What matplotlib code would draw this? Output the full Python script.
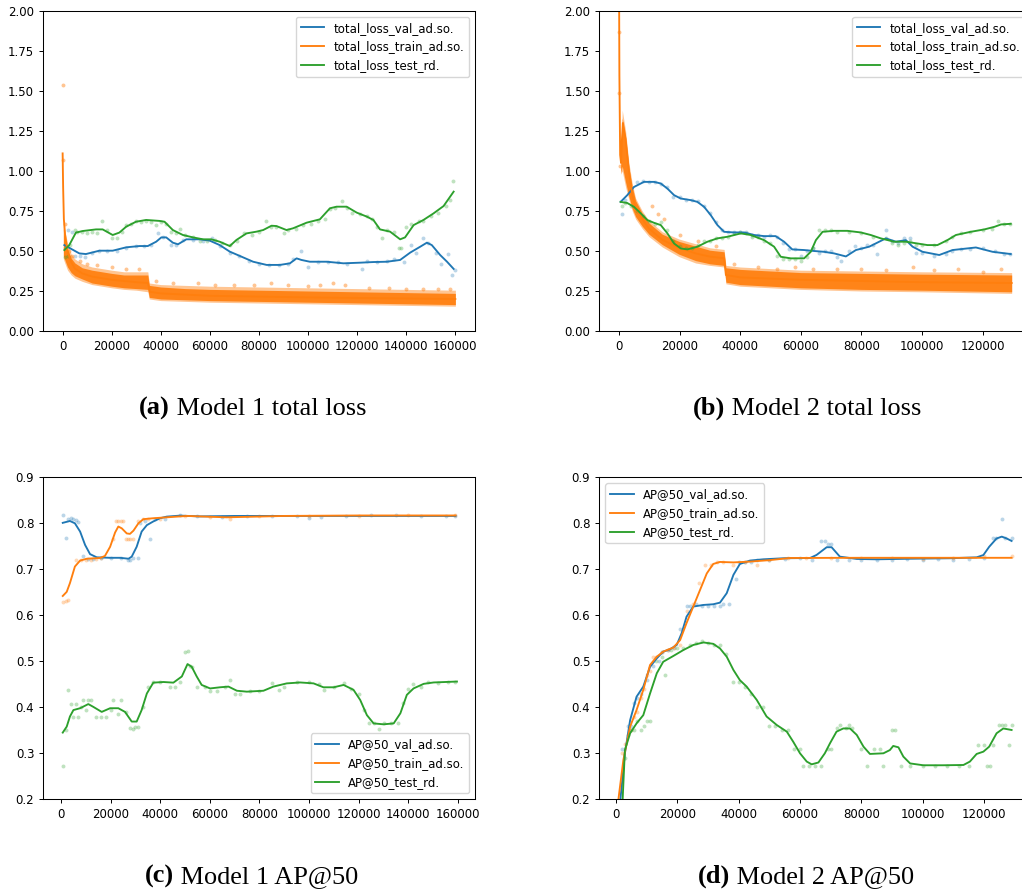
import matplotlib
matplotlib.use("Agg")
import matplotlib.pyplot as plt

# ---------------------------------------------------------------- data
# Model 1 total loss (smoothed curves)
m1_val_loss_x = [700, 6800, 9500, 15000, 20400, 25900, 31300, 34700, 38100, 40200, 42200, 44900, 47000,
                 50400, 55800, 59900, 64000, 68100, 72200, 77600, 83100, 88500, 92600, 95300, 97300,
                 100700, 107600, 114400, 121200, 126600, 132100, 137500, 141600, 145700, 148400, 150400,
                 153800, 156600, 159300]
m1_val_loss_y = [0.537, 0.485, 0.481, 0.502, 0.502, 0.523, 0.531, 0.531, 0.558, 0.585, 0.585, 0.552, 0.542,
                 0.573, 0.573, 0.565, 0.537, 0.496, 0.469, 0.433, 0.413, 0.413, 0.423, 0.454, 0.444,
                 0.433, 0.433, 0.423, 0.427, 0.431, 0.433, 0.444, 0.490, 0.527, 0.552, 0.537,
                 0.475, 0.433, 0.388]
m1_test_loss_x = [700, 2700, 5400, 8200, 13600, 16300, 20400, 23100, 25900, 29900, 34000, 39500, 41500,
                  44900, 49000, 53100, 57200, 60600, 64000, 68100, 70800, 74900, 79000, 81700, 85100,
                  87100, 91200, 93900, 99400, 104800, 108900, 111600, 115700, 119800, 123900, 126600,
                  129300, 133400, 137500, 139500, 143000, 147000, 151100, 155200, 159300]
m1_test_loss_y = [0.506, 0.537, 0.615, 0.625, 0.635, 0.635, 0.600, 0.615, 0.652, 0.683, 0.694, 0.688, 0.683,
                  0.631, 0.600, 0.585, 0.573, 0.573, 0.558, 0.531, 0.569, 0.610, 0.621, 0.631, 0.658,
                  0.656, 0.631, 0.642, 0.677, 0.698, 0.767, 0.777, 0.777, 0.740, 0.715, 0.694,
                  0.635, 0.621, 0.573, 0.585, 0.662, 0.694, 0.735, 0.781, 0.871]
m1_train_loss_x = [0, 200, 500, 1000, 2000, 3500, 5000, 8000, 12000, 20000, 30000, 34800, 35500, 40000,
                   60000, 100000, 160000]
m1_train_loss_y = [1.11, 0.90, 0.70, 0.60, 0.50, 0.43, 0.39, 0.36, 0.34, 0.32, 0.305, 0.30, 0.245, 0.235,
                   0.22, 0.21, 0.20]
# spread of the raw training-loss samples (outer envelope and dense core)
m1_band_x = [300, 1000, 2000, 3500, 5000, 8000, 12000, 16000, 20000, 25000, 30000, 34700, 35300, 40000,
             50000, 60000, 80000, 100000, 120000, 140000, 160000]
m1_band_hi = [0.68, 0.62, 0.55, 0.48, 0.45, 0.42, 0.40, 0.39, 0.38, 0.37, 0.37, 0.37, 0.30, 0.29, 0.285,
              0.28, 0.275, 0.27, 0.265, 0.26, 0.255]
m1_band_lo = [0.45, 0.42, 0.38, 0.35, 0.33, 0.31, 0.29, 0.28, 0.27, 0.26, 0.255, 0.245, 0.20, 0.19, 0.185,
              0.18, 0.175, 0.17, 0.165, 0.16, 0.155]
m1_core_hi = [0.64, 0.57, 0.51, 0.455, 0.425, 0.395, 0.38, 0.37, 0.36, 0.35, 0.35, 0.35, 0.285, 0.275,
              0.265, 0.26, 0.255, 0.25, 0.245, 0.24, 0.235]
m1_core_lo = [0.47, 0.44, 0.40, 0.365, 0.345, 0.325, 0.30, 0.29, 0.28, 0.27, 0.265, 0.26, 0.21, 0.20,
              0.195, 0.19, 0.185, 0.18, 0.175, 0.17, 0.165]
m1_train_pts_x = [0, 0, 1000, 2500, 4000, 7000, 10000, 14000, 20000, 26000, 31000, 38000, 45000, 55000,
                  62000, 70000, 78000, 85000, 92000, 100000, 105000, 110000, 115000, 125000, 133000,
                  140000, 147000, 153000, 158000]
m1_train_pts_y = [1.54, 1.07, 0.67, 0.50, 0.47, 0.44, 0.42, 0.41, 0.40, 0.39, 0.385, 0.31, 0.30, 0.30,
                  0.29, 0.285, 0.29, 0.30, 0.285, 0.28, 0.29, 0.30, 0.29, 0.27, 0.27, 0.265, 0.26,
                  0.265, 0.26]
m1_val_pts_x = [1000, 2000, 4000, 5000, 7000, 9000, 12000, 15000, 18000, 22000, 26000, 30000, 33000, 36000,
                39000, 41000, 44000, 46000, 49000, 53000, 57000, 61000, 64000, 68000, 72000, 76000, 80000,
                84000, 88000, 92000, 94000, 97000, 100000, 104000, 108000, 112000, 116000, 122000, 124000,
                128000, 132000, 135000, 139000, 142000, 144000, 147000, 149000, 152000, 154000, 157000,
                158700, 160000]
m1_val_pts_y = [0.52, 0.63, 0.62, 0.47, 0.47, 0.46, 0.49, 0.50, 0.50, 0.50, 0.52, 0.53, 0.53, 0.54,
                0.61, 0.59, 0.54, 0.54, 0.57, 0.57, 0.56, 0.58, 0.53, 0.49, 0.47, 0.44, 0.42,
                0.41, 0.41, 0.42, 0.45, 0.50, 0.40, 0.43, 0.43, 0.43, 0.42, 0.39, 0.44,
                0.43, 0.44, 0.45, 0.43, 0.54, 0.49, 0.58, 0.55, 0.49, 0.42, 0.48,
                0.35, 0.38]
m1_test_pts_x = [1000, 2000, 3000, 5000, 6000, 8000, 10000, 12000, 14000, 16000, 18000, 20000, 22000, 24000,
                 26000, 28000, 30000, 32000, 34000, 36000, 38000, 40000, 42000, 44000, 46000, 48000, 50000,
                 53000, 56000, 59000, 62000, 65000, 68000, 71000, 74000, 77000, 80000, 83000, 85000, 87000,
                 90000, 92000, 95000, 98000, 101000, 104000, 107000, 109000, 111000, 114000, 116000,
                 118000, 121000, 124000, 126000, 128000, 130000, 132000, 135000, 137000, 138000, 140000,
                 142000, 145000, 147000, 150000, 153000, 156000, 158000, 159000]
m1_test_pts_y = [0.46, 0.47, 0.54, 0.63, 0.62, 0.62, 0.61, 0.62, 0.61, 0.69, 0.63, 0.58, 0.58, 0.62,
                 0.66, 0.67, 0.69, 0.68, 0.69, 0.68, 0.66, 0.68, 0.67, 0.62, 0.61, 0.64, 0.60,
                 0.59, 0.56, 0.56, 0.57, 0.55, 0.54, 0.56, 0.61, 0.60, 0.62, 0.69, 0.65, 0.65,
                 0.61, 0.63, 0.64, 0.66, 0.67, 0.69, 0.70, 0.76, 0.77, 0.815, 0.77,
                 0.74, 0.73, 0.72, 0.70, 0.65, 0.58, 0.63, 0.62, 0.52, 0.52, 0.65,
                 0.67, 0.69, 0.69, 0.72, 0.74, 0.78, 0.82, 0.94]

# Model 2 total loss
m2_val_loss_x = [550, 2750, 4950, 8250, 11600, 13800, 16000, 18200, 20400, 23700, 25900, 28100, 30300,
                 32500, 34700, 38000, 41300, 44600, 47900, 51700, 54500, 57200, 61100, 64400, 67700,
                 71000, 74900, 78200, 82600, 88100, 91400, 94700, 96900, 100200, 105700, 110100,
                 117800, 123300, 129300]
m2_val_loss_y = [0.807, 0.849, 0.900, 0.932, 0.932, 0.922, 0.890, 0.849, 0.828, 0.818, 0.807, 0.776, 0.724,
                 0.662, 0.620, 0.616, 0.616, 0.600, 0.593, 0.593, 0.558, 0.510, 0.506, 0.500, 0.495,
                 0.485, 0.466, 0.506, 0.527, 0.579, 0.558, 0.568, 0.527, 0.495, 0.475, 0.506,
                 0.522, 0.495, 0.481]
m2_test_loss_x = [550, 2750, 4950, 7200, 9400, 11600, 13800, 16000, 18200, 20400, 22600, 25900, 29200,
                  32500, 35800, 40200, 43500, 47900, 51200, 53400, 56700, 61100, 63300, 65000, 67200,
                  71000, 75400, 79800, 83100, 86400, 90800, 94700, 98500, 101800, 105100, 108400,
                  111200, 116100, 120600, 123900, 126100, 129300]
m2_test_loss_y = [0.807, 0.800, 0.776, 0.735, 0.693, 0.676, 0.662, 0.610, 0.547, 0.516, 0.510, 0.527, 0.558,
                  0.579, 0.589, 0.610, 0.600, 0.568, 0.527, 0.464, 0.454, 0.454, 0.495, 0.568, 0.620,
                  0.626, 0.626, 0.616, 0.600, 0.579, 0.558, 0.558, 0.547, 0.537, 0.537, 0.568,
                  0.600, 0.620, 0.635, 0.651, 0.666, 0.670]
m2_train_loss_x = [0, 150, 400, 700, 1000, 1300, 2200, 3300, 4400, 5500, 7700, 9900, 14300, 19800, 25300,
                   30000, 34700, 35300, 40000, 60000, 100000, 129600]
m2_train_loss_y = [2.40, 1.60, 1.10, 1.05, 1.20, 1.30, 1.20, 1.00, 0.85, 0.77, 0.70, 0.64, 0.57, 0.52,
                   0.485, 0.465, 0.455, 0.35, 0.335, 0.32, 0.305, 0.30]
m2_band_x = [600, 1100, 2200, 3300, 4400, 5500, 7700, 9900, 14300, 19800, 25300, 30000, 34700, 35300,
             40000, 50000, 60000, 80000, 100000, 129600]
m2_band_hi = [1.10, 1.38, 1.25, 1.05, 0.92, 0.83, 0.75, 0.69, 0.62, 0.575, 0.545, 0.52, 0.51, 0.41, 0.40,
              0.39, 0.38, 0.375, 0.37, 0.365]
m2_band_lo = [0.98, 1.00, 0.90, 0.82, 0.75, 0.70, 0.64, 0.59, 0.525, 0.465, 0.425, 0.41, 0.40, 0.295,
              0.28, 0.27, 0.26, 0.25, 0.245, 0.235]
m2_core_hi = [1.08, 1.33, 1.21, 1.02, 0.90, 0.815, 0.735, 0.675, 0.605, 0.56, 0.53, 0.505, 0.495, 0.395,
              0.385, 0.375, 0.365, 0.36, 0.355, 0.35]
m2_core_lo = [0.99, 1.03, 0.93, 0.84, 0.765, 0.715, 0.655, 0.605, 0.54, 0.48, 0.44, 0.42, 0.41, 0.305,
              0.29, 0.28, 0.27, 0.26, 0.255, 0.245]
m2_train_pts_x = [0, 0, 300, 11000, 13000, 15000, 20000, 26000, 32000, 38000, 46000, 52000, 58000, 64000,
                  72000, 80000, 88000, 97000, 104000, 112000, 120000, 126000]
m2_train_pts_y = [1.87, 1.49, 1.03, 0.78, 0.73, 0.70, 0.60, 0.56, 0.53, 0.42, 0.40, 0.39, 0.40, 0.39,
                  0.385, 0.39, 0.38, 0.40, 0.38, 0.385, 0.37, 0.39]
m2_val_pts_x = [1000, 2000, 4000, 6000, 8000, 10000, 12000, 14000, 16000, 18000, 20000, 22000, 24000, 26000,
                28000, 30000, 32000, 34000, 36000, 38000, 40000, 42000, 44000, 46000, 48000, 50000, 52000,
                54000, 56000, 58000, 60000, 62000, 64000, 66000, 68000, 70000, 72000, 73200, 76000, 78000,
                80000, 82000, 84000, 85300, 88100, 90000, 92000, 94000, 96000, 98000, 100000, 104000,
                108000, 110000, 113000, 116000, 120000, 124000, 127000, 129000]
m2_val_pts_y = [0.73, 0.82, 0.88, 0.93, 0.94, 0.93, 0.93, 0.92, 0.90, 0.84, 0.84, 0.82, 0.82, 0.81,
                0.78, 0.74, 0.68, 0.63, 0.62, 0.62, 0.62, 0.62, 0.60, 0.60, 0.59, 0.60, 0.59,
                0.55, 0.51, 0.51, 0.47, 0.50, 0.52, 0.49, 0.50, 0.50, 0.46, 0.44, 0.50, 0.53,
                0.52, 0.54, 0.54, 0.48, 0.63, 0.56, 0.55, 0.58, 0.58, 0.49, 0.49, 0.47,
                0.48, 0.50, 0.51, 0.51, 0.52, 0.50, 0.48, 0.48]
m2_test_pts_x = [1000, 2000, 4000, 6000, 8000, 10000, 12000, 14000, 16000, 18000, 20000, 22000, 24000, 26000,
                 28000, 30000, 32000, 34000, 36000, 38000, 40000, 42000, 44000, 46000, 48000, 50000, 52000,
                 54000, 56000, 58000, 60000, 62000, 64000, 66000, 68000, 70000, 72000, 76000, 80000, 84000,
                 88000, 90000, 92000, 94000, 96000, 98000, 100000, 104000, 108000, 110000, 113000, 116000,
                 120000, 123000, 125000, 127000, 129000]
m2_test_pts_y = [0.78, 0.80, 0.78, 0.75, 0.72, 0.69, 0.67, 0.68, 0.63, 0.56, 0.53, 0.52, 0.52, 0.54,
                 0.56, 0.56, 0.58, 0.58, 0.59, 0.61, 0.62, 0.61, 0.59, 0.59, 0.56, 0.55, 0.47,
                 0.45, 0.45, 0.45, 0.44, 0.46, 0.52, 0.63, 0.63, 0.63, 0.62, 0.62, 0.61, 0.59,
                 0.58, 0.55, 0.54, 0.55, 0.56, 0.54, 0.54, 0.54, 0.56, 0.59, 0.61, 0.62,
                 0.63, 0.64, 0.69, 0.67, 0.67]

# Model 1 AP@50
m1_val_ap_x = [700, 3600, 5600, 7700, 9700, 11700, 14400, 19800, 23800, 27200, 28500, 30500, 32500, 34600,
               37200, 39900, 42600, 48000, 56100, 70000, 90000, 110000, 130000, 159000]
m1_val_ap_y = [0.801, 0.805, 0.800, 0.782, 0.753, 0.733, 0.726, 0.725, 0.725, 0.723, 0.7275, 0.749, 0.782,
               0.796, 0.804, 0.811, 0.8145, 0.8167, 0.815, 0.816, 0.816, 0.816, 0.816, 0.816]
m1_train_ap_x = [700, 2300, 3600, 5600, 7700, 10400, 15700, 17700, 19800, 21800, 23100, 24500, 26500, 27800,
                 29200, 31200, 33200, 37200, 42600, 50700, 66800, 90000, 120000, 159000]
m1_train_ap_y = [0.642, 0.651, 0.670, 0.706, 0.719, 0.723, 0.7246, 0.729, 0.749, 0.780, 0.793, 0.789, 0.778,
                 0.777, 0.784, 0.800, 0.809, 0.811, 0.813, 0.816, 0.813, 0.816, 0.817, 0.817]
m1_test_ap_x = [700, 2300, 3600, 5000, 7700, 11000, 13000, 16400, 19800, 23100, 25800, 28500, 30500, 32500,
                34600, 37200, 41300, 45300, 48700, 51000, 52700, 54700, 56700, 60100, 64100, 67500, 70900,
                74900, 81600, 85600, 91000, 96400, 101800, 105800, 109900, 113900, 117900, 120600, 123300,
                126000, 130000, 134100, 136800, 139400, 142100, 146200, 150200, 159600]
m1_test_ap_y = [0.345, 0.358, 0.380, 0.394, 0.398, 0.407, 0.401, 0.390, 0.398, 0.398, 0.390, 0.369, 0.369,
                0.394, 0.430, 0.4536, 0.455, 0.4536, 0.467, 0.494, 0.488, 0.467, 0.4486, 0.441, 0.4435,
                0.445, 0.436, 0.434, 0.436, 0.445, 0.452, 0.454, 0.452, 0.4435, 0.4435, 0.4486, 0.438,
                0.416, 0.383, 0.365, 0.363, 0.365, 0.387, 0.427, 0.441, 0.451, 0.454, 0.456]
m1_val_ap_pts_x = [1000, 2000, 3000, 4000, 5000, 6000, 7000, 9000, 11000, 13000, 16000, 20000, 24000, 27000,
                   28000, 29000, 31000, 32000, 34000, 36000, 38000, 42000, 48000, 55000, 65000, 75000,
                   85000, 95000, 100000, 105000, 115000, 125000, 135000, 145000, 155000, 159000]
m1_val_ap_pts_y = [0.817, 0.769, 0.81, 0.812, 0.81, 0.808, 0.803, 0.73, 0.722, 0.722, 0.725, 0.725, 0.725,
                   0.72, 0.72, 0.725, 0.725, 0.80, 0.805, 0.765, 0.81, 0.81, 0.817, 0.815, 0.813, 0.815,
                   0.815, 0.815, 0.811, 0.813, 0.815, 0.818, 0.818, 0.815, 0.815, 0.815]
m1_train_ap_pts_x = [1000, 2000, 3000, 6000, 8000, 10000, 12000, 14000, 16000, 21000, 22000, 23000, 24000,
                     25000, 26000, 27000, 28000, 29000, 31000, 33000, 35000, 40000, 50000, 60000, 68000,
                     80000, 100000, 120000, 140000, 159000]
m1_train_ap_pts_y = [0.630, 0.632, 0.634, 0.720, 0.720, 0.720, 0.720, 0.722, 0.725, 0.765, 0.805, 0.805,
                     0.805, 0.805, 0.765, 0.765, 0.765, 0.765, 0.805, 0.810, 0.810, 0.810, 0.815, 0.813,
                     0.810, 0.815, 0.815, 0.815, 0.818, 0.818]
m1_test_ap_pts_x = [1000, 2000, 3000, 4000, 5000, 6000, 7000, 8000, 9000, 10000, 11000, 12000, 14000, 16000,
                    18000, 20000, 21000, 23000, 24000, 26000, 28000, 29000, 30000, 31000, 33000, 35000,
                    37000, 40000, 44000, 46000, 48000, 50000, 51000, 52000, 53000, 55000, 58000, 60000,
                    63000, 66000, 68000, 70000, 72000, 76000, 80000, 85000, 88000, 90000, 95000, 100000,
                    104000, 106000, 110000, 114000, 117000, 120000, 122000, 124000, 126000, 128000,
                    130000, 133000, 136000, 138000, 140000, 142000, 145000, 148000, 152000, 156000, 159000]
m1_test_ap_pts_y = [0.272, 0.350, 0.437, 0.407, 0.380, 0.407, 0.380, 0.400, 0.415, 0.395, 0.415, 0.415,
                    0.380, 0.380, 0.380, 0.395, 0.416, 0.385, 0.416, 0.390, 0.355, 0.352, 0.358, 0.358,
                    0.400, 0.445, 0.455, 0.455, 0.445, 0.445, 0.455, 0.520, 0.523, 0.490, 0.488, 0.445,
                    0.445, 0.435, 0.435, 0.445, 0.459, 0.430, 0.430, 0.435, 0.435, 0.452, 0.438, 0.445,
                    0.455, 0.455, 0.450, 0.437, 0.445, 0.452, 0.440, 0.430, 0.395, 0.365, 0.365, 0.352,
                    0.365, 0.365, 0.365, 0.410, 0.440, 0.450, 0.445, 0.455, 0.452, 0.455, 0.455]

# Model 2 AP@50
m2_val_ap_x = [1000, 2900, 4600, 6700, 8900, 11100, 13300, 15400, 17600, 19800, 21400, 23000, 25200, 28500,
               31700, 33900, 36100, 38300, 40400, 43700, 48000, 54600, 63300, 65400, 68700, 70300, 73000,
               78500, 85000, 95900, 108900, 117600, 119800, 121700, 124100, 125800, 127400, 129000]
m2_val_ap_y = [0.17, 0.300, 0.372, 0.423, 0.445, 0.488, 0.5065, 0.521, 0.526, 0.5355, 0.561, 0.597, 0.619,
               0.6225, 0.624, 0.6275, 0.648, 0.688, 0.7116, 0.719, 0.7217, 0.724, 0.7246, 0.7312, 0.748,
               0.748, 0.7275, 0.7225, 0.7217, 0.723, 0.724, 0.726, 0.731, 0.749, 0.767, 0.771, 0.767,
               0.7616]
m2_train_ap_x = [600, 2400, 4600, 6700, 8900, 11100, 13300, 15400, 18700, 20900, 23000, 25200, 27400, 29600,
                 31700, 33900, 38300, 43700, 50200, 56700, 80000, 100000, 129000]
m2_train_ap_y = [0.19, 0.2855, 0.358, 0.394, 0.438, 0.492, 0.510, 0.521, 0.530, 0.546, 0.583, 0.619, 0.655,
                 0.691, 0.7116, 0.716, 0.715, 0.7167, 0.720, 0.7246, 0.725, 0.725, 0.725]
m2_test_ap_x = [1000, 2900, 4600, 6700, 8900, 11100, 13300, 15400, 18700, 22000, 25200, 28500, 31700, 33900,
                36100, 38300, 40400, 42600, 45900, 49100, 52400, 55700, 57800, 60000, 62200, 63800, 66000,
                68100, 69800, 71900, 74100, 76300, 78500, 80700, 82800, 87200, 89300, 90400, 92100, 93700,
                95900, 100200, 106700, 113300, 115400, 117600, 119800, 121700, 124100, 126300, 129000]
m2_test_ap_y = [0.03, 0.307, 0.3435, 0.365, 0.383, 0.430, 0.474, 0.499, 0.5116, 0.5246, 0.5355, 0.541, 0.538,
                0.528, 0.510, 0.481, 0.459, 0.445, 0.416, 0.380, 0.3616, 0.347, 0.325, 0.300, 0.282, 0.276,
                0.280, 0.300, 0.322, 0.347, 0.354, 0.354, 0.340, 0.3145, 0.2986, 0.300, 0.307, 0.316,
                0.313, 0.2928, 0.278, 0.274, 0.274, 0.2746, 0.282, 0.2986, 0.3036, 0.3145, 0.3435,
                0.354, 0.3507]
m2_val_ap_pts_x = [2000, 4000, 5000, 6000, 7000, 8000, 10000, 12000, 14000, 15000, 17000, 19000, 21000,
                   23000, 24000, 26000, 28000, 30000, 32000, 34000, 35000, 37000, 39000, 40000, 42000,
                   44000, 46000, 50000, 55000, 60000, 64000, 67000, 68000, 69000, 70000, 72000, 76000,
                   80000, 85000, 90000, 95000, 100000, 105000, 110000, 115000, 120000, 123000, 124000,
                   126000, 127000, 129000]
m2_val_ap_pts_y = [0.31, 0.36, 0.36, 0.41, 0.42, 0.43, 0.46, 0.49, 0.50, 0.52, 0.525, 0.53, 0.57, 0.62,
                   0.62, 0.625, 0.62, 0.62, 0.62, 0.62, 0.625, 0.625, 0.68, 0.715, 0.715, 0.715, 0.72,
                   0.72, 0.723, 0.725, 0.72, 0.762, 0.762, 0.755, 0.755, 0.72, 0.72, 0.72, 0.72, 0.72,
                   0.722, 0.72, 0.722, 0.72, 0.722, 0.725, 0.768, 0.768, 0.81, 0.768, 0.768]
m2_train_ap_pts_x = [2000, 3000, 5000, 6000, 7000, 8000, 9000, 10000, 11000, 12000, 13000, 15000, 17000,
                     19000, 21000, 23000, 25000, 27000, 29000, 31000, 33000, 35000, 38000, 42000, 46000,
                     50000, 56000, 62000, 70000, 80000, 90000, 100000, 110000, 120000, 129000]
m2_train_ap_pts_y = [0.30, 0.32, 0.35, 0.38, 0.39, 0.42, 0.44, 0.47, 0.48, 0.51, 0.51, 0.52, 0.525, 0.53,
                     0.535, 0.61, 0.625, 0.67, 0.71, 0.71, 0.715, 0.715, 0.71, 0.715, 0.71, 0.72, 0.725,
                     0.725, 0.725, 0.725, 0.725, 0.722, 0.725, 0.728, 0.728]
m2_test_ap_pts_x = [3000, 4000, 5000, 6000, 7000, 8000, 9000, 10000, 11000, 13000, 15000, 16000, 18000,
                    20000, 22000, 24000, 26000, 28000, 30000, 32000, 34000, 36000, 38000, 40000, 42000,
                    44000, 46000, 48000, 50000, 52000, 54000, 56000, 58000, 60000, 61000, 63000, 65000,
                    67000, 69000, 70000, 72000, 73000, 75000, 76000, 77000, 80000, 82000, 84000, 86000,
                    87000, 90000, 91000, 93000, 96000, 100000, 104000, 108000, 112000, 115000, 118000,
                    120000, 121000, 122000, 123000, 125000, 126000, 127000, 128000, 129000]
m2_test_ap_pts_y = [0.29, 0.34, 0.35, 0.35, 0.37, 0.35, 0.36, 0.37, 0.37, 0.50, 0.51, 0.47, 0.525, 0.53,
                    0.53, 0.535, 0.54, 0.545, 0.54, 0.535, 0.535, 0.515, 0.455, 0.455, 0.445, 0.43,
                    0.40, 0.40, 0.36, 0.36, 0.35, 0.35, 0.31, 0.31, 0.272, 0.272, 0.272, 0.272, 0.31,
                    0.31, 0.355, 0.362, 0.355, 0.362, 0.355, 0.31, 0.272, 0.31, 0.31, 0.272, 0.35, 0.35,
                    0.272, 0.272, 0.272, 0.272, 0.272, 0.272, 0.272, 0.318, 0.318, 0.272, 0.272, 0.318,
                    0.362, 0.362, 0.362, 0.318, 0.362]

loss_labels = ["total_loss_val_ad.so.", "total_loss_train_ad.so.", "total_loss_test_rd."]
ap_labels = ["AP@50_val_ad.so.", "AP@50_train_ad.so.", "AP@50_test_rd."]
captions = [("(a)", " Model 1 total loss"), ("(b)", " Model 2 total loss"),
            ("(c)", " Model 1 AP@50"), ("(d)", " Model 2 AP@50")]
loss_ticks = [0.00, 0.25, 0.50, 0.75, 1.00, 1.25, 1.50, 1.75, 2.00]
ap_ticks = [0.2, 0.3, 0.4, 0.5, 0.6, 0.7, 0.8, 0.9]
iter_ticks_m1 = [0, 20000, 40000, 60000, 80000, 100000, 120000, 140000, 160000]
iter_ticks_m2 = [0, 20000, 40000, 60000, 80000, 100000, 120000]

# ---------------------------------------------------------------- style
plt.rcParams.update({
    "font.family": "DejaVu Sans",
    "font.size": 8.5,
    "axes.linewidth": 0.75,
    "xtick.major.size": 3.0,
    "ytick.major.size": 3.0,
    "xtick.major.width": 0.7,
    "ytick.major.width": 0.7,
    "legend.fontsize": 8.5,
})

BLUE, ORANGE, GREEN = "#1f77b4", "#ff7f0e", "#2ca02c"
W, H = 1022, 891
fig = plt.figure(figsize=(W / 100, H / 100), dpi=100)


def px_axes(left, top, width, height):
    return fig.add_axes([left / W, 1 - (top + height) / H, width / W, height / H])


ax_a = px_axes(43, 11, 432, 320)
ax_b = px_axes(599.3, 11, 432, 320)
ax_c = px_axes(43.3, 477.3, 432, 322)
ax_d = px_axes(599.3, 477.3, 432, 322)

DOT = dict(s=8, alpha=0.3, linewidths=0)
LW = 1.35


def loss_panel(ax, val, test, train, band, core, pts, xlim, xticks, legend_loc):
    ax.scatter(*pts[0], color=BLUE, **DOT)
    ax.fill_between(band[0], band[1], band[2], color=ORANGE, alpha=0.45, lw=0)
    ax.fill_between(band[0], core[0], core[1], color=ORANGE, alpha=0.92, lw=0)
    ax.scatter(*pts[1], color=ORANGE, s=8, alpha=0.45, linewidths=0)
    ax.scatter(*pts[2], color=GREEN, **DOT)
    ax.plot(*val, color=BLUE, lw=LW, label=loss_labels[0])
    ax.plot(*train, color=ORANGE, lw=LW, label=loss_labels[1])
    ax.plot(*test, color=GREEN, lw=LW, label=loss_labels[2])
    ax.set_ylim(0, 2)
    ax.set_yticks(loss_ticks)
    ax.set_yticklabels([f"{t:.2f}" for t in loss_ticks])
    ax.set_xlim(*xlim)
    ax.set_xticks(xticks)
    ax.legend(loc=legend_loc)


def ap_panel(ax, val, train, test, pts, xlim, xticks, legend_loc):
    ax.scatter(*pts[0], color=BLUE, **DOT)
    ax.scatter(*pts[1], color=ORANGE, **DOT)
    ax.scatter(*pts[2], color=GREEN, **DOT)
    ax.plot(*val, color=BLUE, lw=LW, label=ap_labels[0])
    ax.plot(*train, color=ORANGE, lw=LW, label=ap_labels[1])
    ax.plot(*test, color=GREEN, lw=LW, label=ap_labels[2])
    ax.set_ylim(0.2, 0.9)
    ax.set_yticks(ap_ticks)
    ax.set_yticklabels([f"{t:.1f}" for t in ap_ticks])
    ax.set_xlim(*xlim)
    ax.set_xticks(xticks)
    ax.legend(loc=legend_loc)


loss_panel(ax_a, (m1_val_loss_x, m1_val_loss_y), (m1_test_loss_x, m1_test_loss_y),
           (m1_train_loss_x, m1_train_loss_y), (m1_band_x, m1_band_lo, m1_band_hi),
           (m1_core_lo, m1_core_hi),
           ((m1_val_pts_x, m1_val_pts_y), (m1_train_pts_x, m1_train_pts_y),
            (m1_test_pts_x, m1_test_pts_y)),
           (-8000, 168000), iter_ticks_m1, "upper right")
loss_panel(ax_b, (m2_val_loss_x, m2_val_loss_y), (m2_test_loss_x, m2_test_loss_y),
           (m2_train_loss_x, m2_train_loss_y), (m2_band_x, m2_band_lo, m2_band_hi),
           (m2_core_lo, m2_core_hi),
           ((m2_val_pts_x, m2_val_pts_y), (m2_train_pts_x, m2_train_pts_y),
            (m2_test_pts_x, m2_test_pts_y)),
           (-6480, 136080), iter_ticks_m2, "upper right")
ap_panel(ax_c, (m1_val_ap_x, m1_val_ap_y), (m1_train_ap_x, m1_train_ap_y), (m1_test_ap_x, m1_test_ap_y),
         ((m1_val_ap_pts_x, m1_val_ap_pts_y), (m1_train_ap_pts_x, m1_train_ap_pts_y),
          (m1_test_ap_pts_x, m1_test_ap_pts_y)),
         (-7140, 167000), iter_ticks_m1, "lower right")
ap_panel(ax_d, (m2_val_ap_x, m2_val_ap_y), (m2_train_ap_x, m2_train_ap_y), (m2_test_ap_x, m2_test_ap_y),
         ((m2_val_ap_pts_x, m2_val_ap_pts_y), (m2_train_ap_pts_x, m2_train_ap_pts_y),
          (m2_test_ap_pts_x, m2_test_ap_pts_y)),
         (-5446, 135424), iter_ticks_m2, "upper left")

# sub-figure captions: bold tag followed by regular text
SERIF = "Liberation Serif"
CAP_SIZE = 18.9
cap_pos = [(139, 414.5), (693, 414.5), (145, 882.7), (698, 882.7)]
for (tag, rest), (cx, cy) in zip(captions, cap_pos):
    t = fig.text(cx / W, 1 - cy / H, tag, fontfamily=SERIF, fontweight="bold",
                 fontsize=CAP_SIZE, ha="left", va="baseline")
    fig.add_artist(matplotlib.text.Annotation(rest, xy=(1, 0), xycoords=t, fontfamily=SERIF,
                                              fontsize=CAP_SIZE, ha="left", va="bottom"))

fig.savefig("out.png", dpi=100)
